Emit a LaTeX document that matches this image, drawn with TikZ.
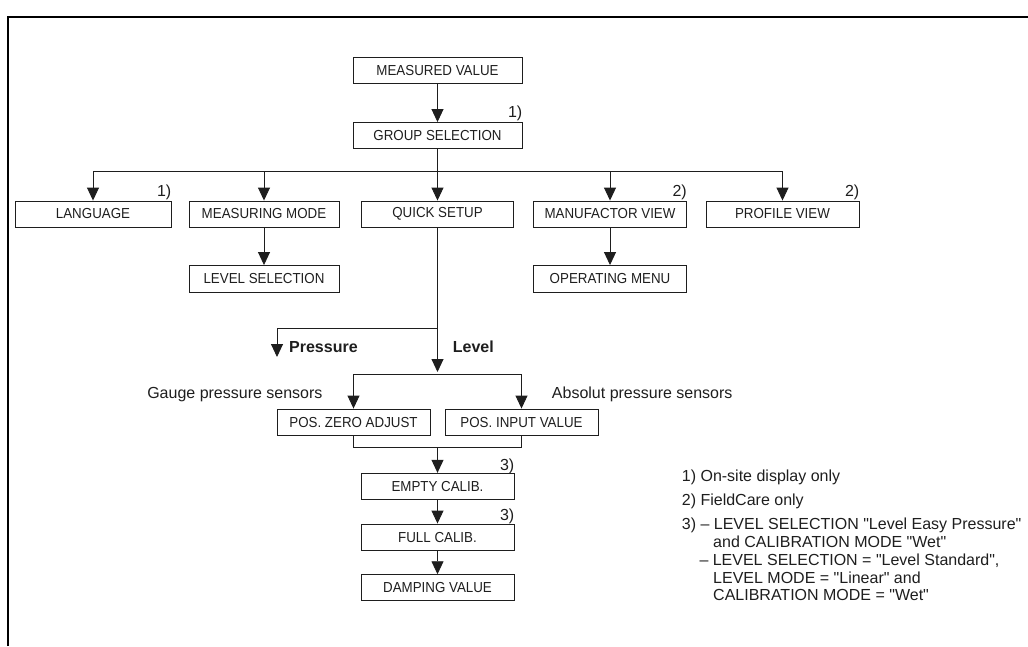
\documentclass[tikz,border=0pt]{standalone}
\usepackage{fontspec}
\setmainfont{Liberation Sans}[Ligatures=TeXOff]
\newfontfamily\boxfam{Liberation Sans}[FakeStretch=0.92, Ligatures=TeXOff]
\usetikzlibrary{arrows.meta}
\definecolor{ink}{HTML}{1E1E1E}
\newcommand\boxfont{\boxfam\fontsize{14.5}{17}\selectfont}
\newcommand\notefont{\fontsize{16}{19}\selectfont}
\tikzset{
  box/.style={draw=ink, line width=0.9pt, minimum height=26pt, inner sep=0pt, font=\boxfont, text=ink},
  arr/.style={-{Triangle[width=12pt,length=13pt]}, line width=0.9pt, draw=ink},
  ln/.style={line width=0.9pt, draw=ink},
  note/.style={font=\notefont, text=ink, inner sep=0pt, anchor=base west},
  fn/.style={font=\notefont, text=ink, inner sep=0pt, anchor=base east},
}
\begin{document}
\begin{tikzpicture}[x=1pt, y=-1pt]
\useasboundingbox (0,0) rectangle (1028,646);
% frame
\draw[line width=1.4pt, black] (8,646) -- (8,17) -- (1028,17);

% boxes
\node[box, minimum width=169pt] (mv) at (437.5,70.5) {MEASURED VALUE};
\node[box, minimum width=169pt] (gs) at (437.5,135.5) {GROUP SELECTION};
\node[box, minimum width=156pt] (lang) at (93,214) {LANGUAGE};
\node[box, minimum width=150pt] (mm) at (264,214) {MEASURING MODE};
\node[box, minimum width=152pt] (qs) at (437.5,214) {QUICK SETUP};
\node[box, minimum width=153pt] (mfv) at (610,214) {MANUFACTOR VIEW};
\node[box, minimum width=153pt] (pv) at (782.5,214) {PROFILE VIEW};
\node[box, minimum width=150pt, minimum height=27pt] (ls) at (264,279) {LEVEL SELECTION};
\node[box, minimum width=153pt, minimum height=27pt] (om) at (610,279) {OPERATING MENU};
\node[box, minimum width=153pt] (pza) at (353.5,422) {POS. ZERO ADJUST};
\node[box, minimum width=153pt] (piv) at (521.5,422) {POS. INPUT VALUE};
\node[box, minimum width=153pt] (ec) at (437.5,486.3) {EMPTY CALIB.};
\node[box, minimum width=153pt] (fc) at (437.5,537) {FULL CALIB.};
\node[box, minimum width=153pt] (dv) at (437.5,587.7) {DAMPING VALUE};

% footnote markers
\node[fn, yshift=4.5pt] (f1) at (gs.north east) {1)};
\node[fn, yshift=4.5pt] (f2) at (lang.north east) {1)};
\node[fn, yshift=4.5pt] (f3) at (mfv.north east) {2)};
\node[fn, yshift=4.5pt] (f4) at (pv.north east) {2)};
\node[fn, yshift=2.5pt] (f5) at (ec.north east) {3)};
\node[fn, yshift=3pt] (f6) at (fc.north east) {3)};

% connectors
\draw[arr] (mv) -- (gs);
\coordinate (busY) at (0,171);
\draw[ln] (gs.south) -- (gs.south |- busY);
\draw[ln] (lang.north |- busY) -- (pv.north |- busY);
\foreach \n in {lang,mm,qs,mfv,pv} \draw[arr] (\n.north |- busY) -- (\n.north);
\draw[arr] (mm) -- (ls);
\draw[arr] (mfv) -- (om);

\coordinate (split) at (437.5,328);
\coordinate (ptip) at (277,357);
\coordinate (ltip) at (437.5,372);
\coordinate (lbus) at (0,374);
\coordinate (jbus) at (0,447.5);
\draw[ln] (qs.south) -- (split);
\draw[arr] (split) -| (ptip);
\draw[arr] (split) -- (ltip);
\draw[ln] (pza.north |- lbus) -- (piv.north |- lbus);
\draw[arr] (pza.north |- lbus) -- (pza.north);
\draw[arr] (piv.north |- lbus) -- (piv.north);
\draw[ln] (pza.south) |- (piv.south |- jbus) -- (piv.south);
\draw[arr] (ec.north |- jbus) -- (ec.north);
\draw[arr] (ec) -- (fc);
\draw[arr] (fc) -- (dv);

% branch labels
\node[note, font=\notefont\bfseries] (lp) at (289,352.7) {Pressure};
\node[note, font=\notefont\bfseries] (ll) at (452.7,352.7) {Level};
\node[fn] (lg) at (322.7,398.3) {Gauge pressure sensors};
\node[fn] (la) at (732.7,398.3) {Absolut pressure sensors};

% notes
\node[note] (n1) at (681.7,481) {1) On-site display only};
\node[note] (n2) at (681.7,505.5) {2) FieldCare only};
\node[note] (n3) at (681.7,529) {3) – LEVEL SELECTION "Level Easy Pressure"};
\node[note] (n4) at (713,547.5) {and CALIBRATION MODE "Wet"};
\node[note] (n5) at (699.3,565.7) {– LEVEL SELECTION = "Level Standard",};
\node[note] (n6) at (713,583.3) {LEVEL MODE = "Linear" and};
\node[note] (n7) at (713,600.7) {CALIBRATION MODE = "Wet"};
\end{tikzpicture}
\end{document}
